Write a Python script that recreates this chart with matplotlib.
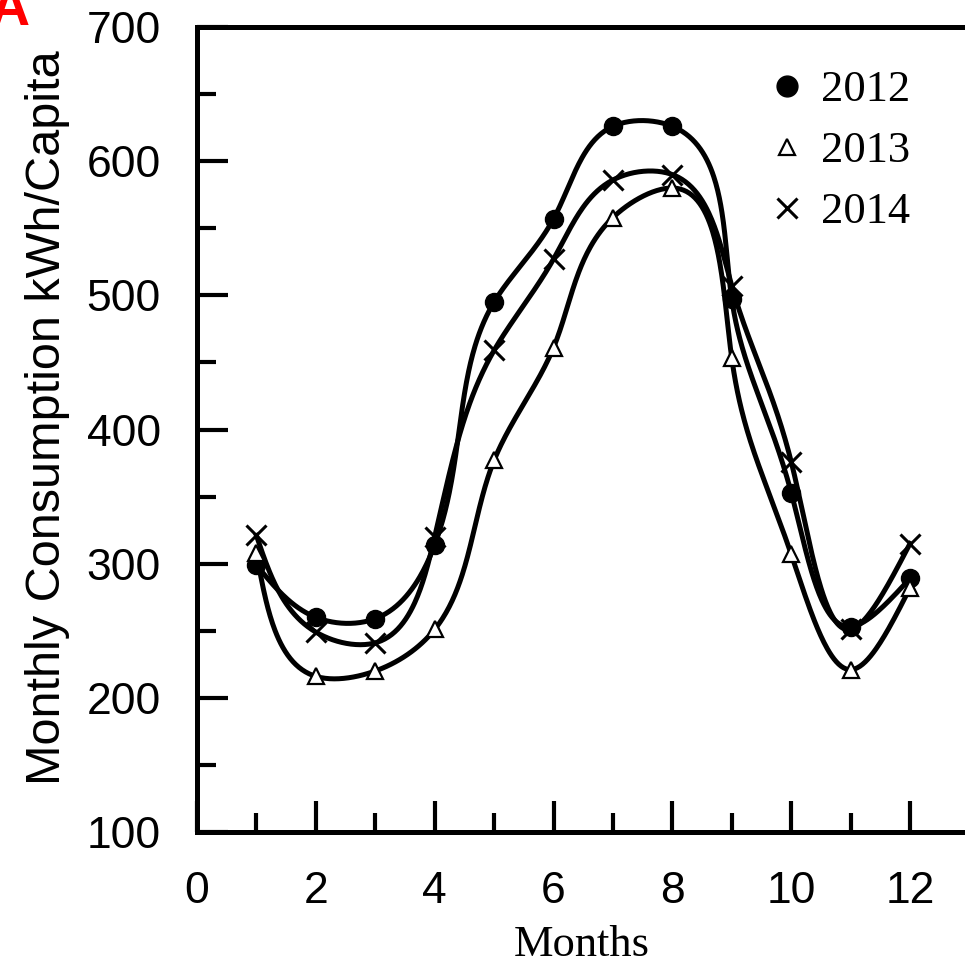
import numpy as np
import matplotlib.pyplot as plt
from matplotlib.lines import Line2D
from matplotlib.ticker import MultipleLocator

# values (kWh per capita)
months = [1, 2, 3, 4, 5, 6, 7, 8, 9, 10, 11, 12]
y2012 = [299, 260, 259, 314, 495, 557, 626, 626, 497, 353, 253, 289]
y2013 = [308, 216, 220, 251, 377, 461, 558, 580, 453, 307, 221, 282]
y2014 = [321, 249, 241, 320, 459, 527, 586, 590, 507, 376, 251, 315]
years = ['2012', '2013', '2014']


# natural cubic spline of v over parameter t, evaluated at tt
def natural(t, v, tt):
    h = np.diff(t)
    n = len(t)
    A = np.zeros((n - 2, n - 2))
    r = np.zeros(n - 2)
    for i in range(n - 2):
        A[i, i] = 2 * (h[i] + h[i + 1])
        if i + 1 < n - 2:
            A[i, i + 1] = h[i + 1]
            A[i + 1, i] = h[i + 1]
        r[i] = 6 * ((v[i + 2] - v[i + 1]) / h[i + 1] - (v[i + 1] - v[i]) / h[i])
    M = np.concatenate([[0], np.linalg.solve(A, r), [0]])
    idx = np.clip(np.searchsorted(t, tt) - 1, 0, n - 2)
    a = t[idx + 1] - tt
    b = tt - t[idx]
    hi = h[idx]
    return (M[idx] * a ** 3 / (6 * hi) + M[idx + 1] * b ** 3 / (6 * hi)
            + (v[idx] / hi - M[idx] * hi / 6) * a + (v[idx + 1] / hi - M[idx + 1] * hi / 6) * b)


# smooth curve through the points, parametrised by chord length on screen
def smooth(x, y, n=600):
    x = np.asarray(x, float)
    y = np.asarray(y, float)
    d = np.hypot(np.diff(x), np.diff(y) * 1.342 / 59.42)
    t = np.concatenate([[0], np.cumsum(d)])
    tt = np.linspace(0, t[-1], n)
    return natural(t, x, tt), natural(t, y, tt)


fig = plt.figure(figsize=(9.65, 9.69), dpi=100)
ax = fig.add_axes([197 / 965, 137 / 969, 768 / 965, 805 / 969])

lw = 3.6
for vals in (y2012, y2013, y2014):
    sx, sy = smooth(months, vals)
    ax.plot(sx, sy, color='black', lw=lw, zorder=2)

ax.plot(months, y2012, 'o', color='black', ms=13, zorder=3)
ax.plot(months, y2013, '^', mfc='white', mec='black', mew=1.6, ms=11, zorder=3)
ax.plot(months, y2014, 'x', color='black', mew=2.2, ms=14, zorder=3)

ax.set_xlim(0, 12.925)
ax.set_ylim(100, 700)
ax.xaxis.set_major_locator(MultipleLocator(2))
ax.xaxis.set_minor_locator(MultipleLocator(1))
ax.yaxis.set_major_locator(MultipleLocator(100))
ax.yaxis.set_minor_locator(MultipleLocator(50))

for s in ('left', 'bottom', 'top'):
    ax.spines[s].set_linewidth(3.6)
ax.spines['right'].set_visible(False)

ax.tick_params(which='both', direction='in', width=3, top=False, right=False,
               labelsize=32)
ax.tick_params(which='major', length=22)
ax.tick_params(which='minor', length=14)
ax.tick_params(axis='y', pad=26)
ax.tick_params(axis='x', pad=28)
for lab in ax.get_xticklabels() + ax.get_yticklabels():
    lab.set_family('Liberation Sans')

ax.set_ylabel('Monthly Consumption kWh/Capita', fontsize=35, family='Liberation Sans')
ax.yaxis.set_label_coords(-0.165, 0.515)
ax.set_xlabel('Months', fontsize=32, family='Liberation Serif')
ax.xaxis.set_label_coords(0.501, -0.115)

handles = [
    Line2D([], [], ls='none', marker='o', color='black', ms=15),
    Line2D([], [], ls='none', marker='^', mfc='white', mec='black', mew=1.6, ms=12),
    Line2D([], [], ls='none', marker='x', color='black', mew=2.2, ms=15),
]
ax.legend(handles, years, loc='upper left', bbox_to_anchor=(774 / 965, 1 - 70 / 969),
          bbox_transform=fig.transFigure, frameon=False, handlelength=0.6,
          handletextpad=0.45, labelspacing=0.47, borderpad=0, borderaxespad=0,
          prop={'family': 'Liberation Serif', 'size': 32})

fig.text(30 / 965, 1 - 25 / 969, 'A', color='red', fontsize=40, fontweight='bold',
         family='Liberation Sans', ha='right', va='baseline')

fig.savefig('out.png', dpi=100)
